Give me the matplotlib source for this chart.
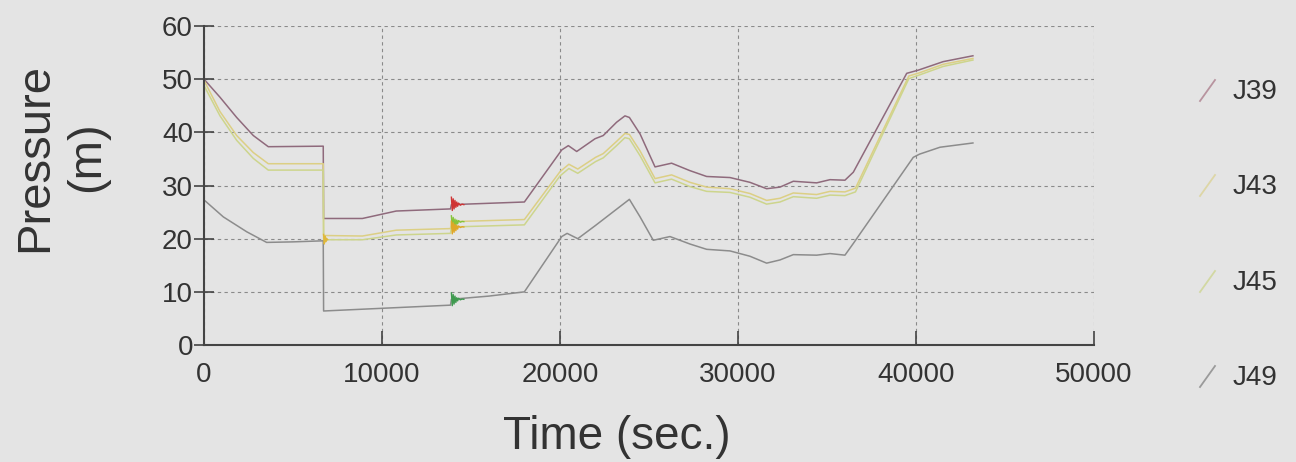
import matplotlib
matplotlib.use("Agg")
import matplotlib.pyplot as plt
from matplotlib.lines import Line2D

plt.rcParams['font.family'] = ['Liberation Sans', 'DejaVu Sans']

# --- pressure time series at the four junctions (sec, m) ---
t_j39 = [0, 900, 1836, 2770, 3612, 6700, 6720, 8900, 10800, 13850, 13900, 18000,
         20100, 20470, 20940, 21970, 22430, 23180, 23650, 23900, 24500, 25340,
         26270, 27300, 28240, 29550, 30670, 31610, 32360, 33110, 34420, 35170,
         36010, 36480, 39480, 40130, 41530, 43200]
p_j39 = [50.0, 46.6, 42.8, 39.4, 37.3, 37.4, 23.8, 23.8, 25.2, 25.6, 26.4, 26.9,
         36.7, 37.5, 36.4, 38.8, 39.4, 41.9, 43.1, 42.8, 39.7, 33.5,
         34.2, 32.8, 31.7, 31.5, 30.6, 29.4, 29.7, 30.8, 30.5, 31.1,
         31.0, 32.5, 51.1, 51.7, 53.3, 54.4]

t_j43 = [0, 900, 1836, 2770, 3612, 6700, 6720, 8900, 10800, 13850, 13900, 18000,
         20000, 20500, 21000, 22000, 22430, 23180, 23650, 23900, 24500, 25340,
         26270, 27300, 28240, 29550, 30670, 31610, 32360, 33110, 34420, 35170,
         36010, 36600, 39600, 40200, 41530, 43200]
p_j43 = [49.8, 43.9, 39.4, 36.2, 34.1, 34.1, 20.6, 20.5, 21.6, 21.9, 23.2, 23.6,
         32.6, 34.0, 33.1, 35.3, 36.0, 38.3, 39.8, 39.6, 36.5, 31.3,
         32.0, 30.6, 29.7, 29.4, 28.5, 27.2, 27.6, 28.6, 28.3, 28.9,
         28.8, 29.5, 50.6, 51.2, 52.8, 53.9]

t_j45 = t_j43
p_j45 = [48.8, 43.1, 38.5, 35.1, 32.9, 32.9, 19.8, 19.8, 20.7, 21.0, 22.2, 22.6,
         31.8, 33.2, 32.3, 34.5, 35.2, 37.5, 39.0, 38.8, 35.6, 30.5,
         31.2, 29.8, 28.9, 28.7, 27.8, 26.5, 26.9, 27.9, 27.6, 28.2,
         28.1, 28.8, 50.1, 50.8, 52.4, 53.6]

t_j49 = [0, 1085, 2400, 3520, 5000, 6700, 6720, 13850, 13900, 16000, 18000,
         20100, 20400, 21000, 22000, 23900, 24500, 25240, 26180, 27300, 28240,
         29550, 30670, 31610, 32360, 33110, 34420, 35170, 36010, 36480, 39850,
         40200, 41350, 43200]
p_j49 = [27.3, 24.1, 21.3, 19.3, 19.4, 19.6, 6.4, 7.5, 8.6, 9.2, 10.0,
         20.4, 21.0, 20.0, 22.5, 27.4, 24.1, 19.7, 20.4, 19.0, 18.0,
         17.7, 16.7, 15.4, 16.0, 17.0, 16.9, 17.2, 16.9, 19.1, 35.3,
         35.9, 37.2, 38.0]

# transient oscillation when the valve operates at ~13900 s
t_burst = [13900, 13950, 14000, 14050, 14100, 14150, 14200, 14250, 14300, 14400, 14500, 14600]
burst_j39 = [27.8, 25.3, 27.5, 25.6, 27.2, 25.9, 26.9, 26.1, 26.7, 26.3, 26.5, 26.4]
burst_j43 = [24.3, 21.9, 24.0, 22.2, 23.7, 22.5, 23.5, 22.8, 23.4, 23.1, 23.25, 23.2]
burst_j45 = [23.3, 20.9, 23.0, 21.2, 22.7, 21.5, 22.5, 21.8, 22.4, 22.1, 22.25, 22.2]
burst_j49 = [9.8, 7.4, 9.5, 7.7, 9.2, 8.0, 8.9, 8.3, 8.8, 8.5, 8.65, 8.6]

# small ripple after the first closure at ~6700 s
t_ripple = [6720, 6760, 6800, 6840, 6880, 6950]
ripple_j45 = [20.8, 19.0, 20.5, 19.4, 20.1, 19.8]

labels = ['J39', 'J43', 'J45', 'J49']
colors = ['#8f6a7c', '#dccf84', '#cdd58c', '#8c8c8c']
legend_colors = ['#b8949f', '#ddd6a6', '#d2d8a2', '#9a9a9a']
burst_colors = ['#cf3434', '#86c43a', '#e0a726', '#3f9a4f']

bg = '#e4e4e4'
ink = '#333333'

fig = plt.figure(figsize=(12.96, 4.62), dpi=100, facecolor=bg)
ax = fig.add_axes([0.1574, 0.2532, 0.6867, 0.6905], facecolor=bg)

series = [(t_j39, p_j39), (t_j43, p_j43), (t_j45, p_j45), (t_j49, p_j49)]
for (t, p), c in zip(series, colors):
    ax.plot(t, p, color=c, lw=1.1)

for b, c in zip([burst_j39, burst_j43, burst_j45, burst_j49], burst_colors):
    ax.plot(t_burst, b, color=c, lw=1.0)
ax.plot(t_ripple, ripple_j45, color='#e0b83a', lw=1.0)

ax.set_xlim(0, 50000)
ax.set_ylim(0, 60)
ax.set_xticks([0, 10000, 20000, 30000, 40000, 50000])
ax.set_yticks([0, 10, 20, 30, 40, 50, 60])
ax.grid(True, color='#8a8a8a', lw=0.8, linestyle=(0, (3, 3)))
ax.set_axisbelow(True)

for s in ['top', 'right']:
    ax.spines[s].set_visible(False)
for s in ['left', 'bottom']:
    ax.spines[s].set_color('#444444')
    ax.spines[s].set_linewidth(1.5)

ax.tick_params(axis='x', direction='in', length=10, width=1.2, color='#444444',
               labelsize=20, labelcolor=ink, pad=12)
ax.tick_params(axis='y', direction='inout', length=14, width=1.2, color='#444444',
               labelsize=20, labelcolor=ink, pad=1)

fig.text(0.047, 0.66, 'Pressure\n(m)', rotation=90, ha='center', va='center',
         multialignment='center', fontsize=34, color=ink, linespacing=1.25)
fig.text(0.476, 0.055, 'Time (sec.)', ha='center', va='center', fontsize=33, color=ink)

# legend: short slanted strokes with the junction names
legend_y = [92, 187, 283, 378]
for name, c, yp in zip(labels, legend_colors, legend_y):
    y0 = 1 - (yp + 9) / 462
    y1 = 1 - (yp - 12) / 462
    fig.add_artist(Line2D([1200 / 1296, 1215 / 1296], [y0, y1],
                          transform=fig.transFigure, color=c, lw=1.3))
    fig.text(1233 / 1296, 1 - yp / 462, name, ha='left', va='center',
             fontsize=20, color=ink)

fig.savefig('out.png', dpi=100, facecolor=bg)
